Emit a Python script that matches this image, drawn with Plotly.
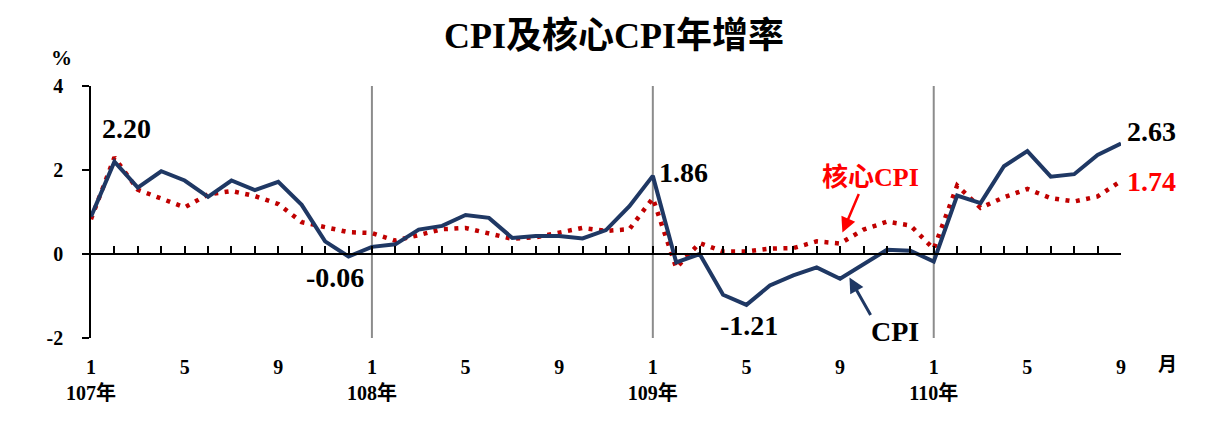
import plotly.graph_objects as go

months_idx = list(range(45))
cpi = [0.89, 2.20, 1.58, 1.97, 1.75, 1.36, 1.75, 1.52, 1.72, 1.17, 0.30, -0.06,
       0.17, 0.23, 0.58, 0.67, 0.93, 0.86, 0.38, 0.43, 0.43, 0.37, 0.57, 1.14,
       1.86, -0.20, 0.00, -0.97, -1.21, -0.75, -0.51, -0.32, -0.59, -0.25, 0.10, 0.08,
       -0.18, 1.39, 1.21, 2.09, 2.45, 1.84, 1.90, 2.36, 2.63]
core = [0.83, 2.30, 1.53, 1.33, 1.11, 1.42, 1.50, 1.38, 1.19, 0.76, 0.64, 0.52,
        0.50, 0.32, 0.45, 0.59, 0.62, 0.48, 0.36, 0.40, 0.50, 0.62, 0.55, 0.59,
        1.33, -0.33, 0.26, 0.06, 0.06, 0.13, 0.14, 0.30, 0.25, 0.58, 0.77, 0.68,
        0.12, 1.63, 1.10, 1.35, 1.55, 1.33, 1.25, 1.37, 1.74]
tick_vals = [0, 4, 8, 12, 16, 20, 24, 28, 32, 36, 40, 44]
tick_text = ["1<br>107年", "5", "9", "1<br>108年", "5", "9",
             "1<br>109年", "5", "9", "1<br>110年", "5", "9"]
year_starts = [12, 24, 36]
y_ticks = [-2, 0, 2, 4]
y_tick_text = ["-2", "0", "2", "4"]

X_MAX = 44
Y_MIN, Y_MAX = -2, 4

FONT = "Liberation Serif, 'Noto Sans CJK TC', serif"
NAVY = "#1F3864"
DOTRED = "#C00000"
RED = "#FF0000"


def px_(i):
    return i / X_MAX


def py_(v):
    return (v - Y_MIN) / (Y_MAX - Y_MIN)


fig = go.Figure()
fig.add_trace(go.Scatter(x=months_idx, y=core, mode="lines",
                         line=dict(color=DOTRED, width=4.5, dash="4px,6.5px"),
                         hoverinfo="skip", showlegend=False))
fig.add_trace(go.Scatter(x=months_idx, y=cpi, mode="lines",
                         line=dict(color=NAVY, width=4),
                         hoverinfo="skip", showlegend=False))
fig.add_trace(go.Scatter(x=[0, X_MAX], y=[0, 0], xaxis="x2", mode="lines",
                         line=dict(width=0), hoverinfo="skip", showlegend=False))

for v in year_starts:
    fig.add_shape(type="line", x0=v, x1=v, y0=Y_MIN, y1=Y_MAX, xref="x", yref="y",
                  line=dict(color="#8C8C8C", width=2), layer="below")

fig.update_layout(
    width=1232, height=426,
    margin=dict(l=83, r=119, t=78, b=96),
    paper_bgcolor="white", plot_bgcolor="white",
    font=dict(family=FONT, color="black", size=19),
    title=dict(text="CPI及核心CPI年增率", x=606 / 1232, xanchor="center",
               y=1 - 27 / 426, yanchor="middle", yref="container",
               font=dict(size=36, weight="bold", family=FONT, color="black")),
    xaxis=dict(range=[0, X_MAX], tickvals=tick_vals, ticktext=tick_text,
               showline=False, ticks="", showgrid=False, zeroline=False,
               ticklabelstandoff=15,
               tickfont=dict(size=20, weight="bold", family=FONT)),
    xaxis2=dict(range=[0, X_MAX], overlaying="x", anchor="free", position=py_(0),
                side="bottom", showline=True, linecolor="black", linewidth=1.5,
                ticks="inside", ticklen=7, tickwidth=1.5, tickcolor="black",
                dtick=1, tick0=0, showticklabels=False, showgrid=False,
                zeroline=False),
    yaxis=dict(range=[Y_MIN, Y_MAX], tickvals=y_ticks, ticktext=y_tick_text,
               showline=True, linecolor="black",
               linewidth=1.5, ticks="outside", ticklen=7, tickwidth=1.5,
               tickcolor="black", showgrid=False, zeroline=False,
               ticklabelstandoff=15,
               tickfont=dict(size=20, weight="bold", family=FONT)),
)

ann_font = dict(size=28, weight="bold", family=FONT, color="black")
labels = [
    (1.5, 3.0, "2.20", "black"),
    (10.42, -0.56, "-0.06", "black"),
    (25.33, 1.95, "1.86", "black"),
    (28.1, -1.70, "-1.21", "black"),
    (34.34, -1.84, "CPI", "black"),
    (45.3, 2.92, "2.63", "black"),
    (45.3, 1.73, "1.74", RED),
]
for x, y, t, c in labels:
    f = dict(ann_font)
    f["color"] = c
    fig.add_annotation(x=px_(x), y=py_(y), xref="paper", yref="paper", text=t,
                       showarrow=False, font=f, xanchor="center", yanchor="middle")
fig.add_annotation(x=px_(33.3), y=py_(1.81), xref="paper", yref="paper",
                   text="核心CPI", showarrow=False,
                   font=dict(size=26, weight="bold", family=FONT, color=RED),
                   xanchor="center", yanchor="middle")
# arrows
fig.add_annotation(x=32.1, y=0.51, text="", showarrow=True, arrowhead=2,
                   arrowsize=1.2, arrowwidth=2.5, arrowcolor=RED,
                   ax=17, ay=-40)
fig.add_annotation(x=32.4, y=-0.56, text="", showarrow=True, arrowhead=2,
                   arrowsize=1.0, arrowwidth=3, arrowcolor=NAVY,
                   ax=22, ay=39)
# axis unit labels
fig.add_annotation(x=px_(-1.24), y=py_(4.66), xref="paper", yref="paper",
                   text="%", showarrow=False,
                   font=dict(size=21, weight="bold", family=FONT),
                   xanchor="center", yanchor="middle")
fig.add_annotation(x=px_(46.0), y=py_(-2.63), xref="paper", yref="paper",
                   text="月", showarrow=False,
                   font=dict(size=19, weight="bold", family=FONT),
                   xanchor="center", yanchor="middle")

fig.write_html("out.html")
